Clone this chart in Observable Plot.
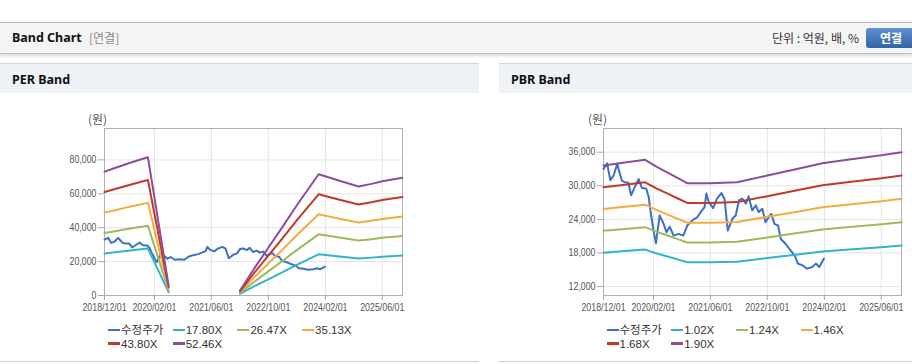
<!DOCTYPE html>
<html><head><meta charset="utf-8">
<script src="https://cdn.jsdelivr.net/npm/d3@7"></script>
<script src="https://cdn.jsdelivr.net/npm/@observablehq/plot@0.6"></script>
<style>
html,body{margin:0;padding:0}
body{width:912px;height:364px;position:relative;background:#fff;overflow:hidden;font-family:"Noto Sans","Noto Sans CJK KR",sans-serif}
.abs{position:absolute}
.topbar{left:0;top:22px;width:912px;height:30px;background:#f4f4f4;border-top:1px solid #b8b8b8;border-bottom:1px solid #c4c4c4;box-shadow:0 2px 3px rgba(0,0,0,0.15)}
.title{left:12px;top:0;line-height:30px;font-size:12.5px;font-weight:bold;color:#111}
.sub{left:89px;top:0;line-height:30px;font-size:12px;color:#888;font-family:"Noto Sans CJK KR",sans-serif}
.unit{right:53px;top:0;line-height:30px;font-size:12px;color:#333;font-family:"Noto Sans CJK KR",sans-serif}
.btn{left:866px;top:5px;width:52px;height:20px;border-radius:3px;background:linear-gradient(#5f8fd0,#3463a6);color:#fff;font-weight:bold;font-size:12px;line-height:20px;text-indent:14px;font-family:"Noto Sans CJK KR",sans-serif}
.phead{top:63px;height:29px;background:#eef1f6;border-top:1px solid #d6d6d6}
.ptitle{left:12px;top:2px;line-height:28px;font-size:12.5px;font-weight:bold;color:#111}
.pbottom{top:361px;height:1px;background:#cfcfcf}
.ylab{font-size:12px;color:#555;font-family:"Noto Sans CJK KR",sans-serif;line-height:14px}
.leg{font-size:11.5px;color:#333;font-family:"Liberation Sans","Noto Sans CJK KR",sans-serif;line-height:14px;white-space:nowrap}
.leg .sw{display:inline-block;width:12px;height:2.5px;vertical-align:middle;margin-right:1px;position:relative;top:-1px}
</style>
</head><body>
<div class="abs topbar">
  <div class="abs title">Band Chart</div>
  <div class="abs sub">[연결]</div>
  <div class="abs unit">단위 : 억원, 배, %</div>
  <div class="abs btn">연결</div>
</div>
<div class="abs phead" style="left:0;width:479px"><div class="abs ptitle">PER Band</div></div>
<div class="abs phead" style="left:499px;width:413px"><div class="abs ptitle">PBR Band</div></div>
<div class="abs pbottom" style="left:0;width:479px"></div>
<div class="abs pbottom" style="left:499px;width:413px"></div>
<div class="abs ylab" style="left:88px;top:112px">(원)</div>
<div class="abs ylab" style="left:588px;top:112px">(원)</div>
<div id="perChart" class="abs" style="left:0;top:100px"></div>
<div id="pbrChart" class="abs" style="left:499px;top:100px"></div>
<div id="perLegend"></div>
<div id="pbrLegend"></div>
<script>
// ---------- data ----------
const xTickLabels = ["2018-12-01","2020-02-01","2021-06-01","2022-10-01","2024-02-01","2025-06-01"];
const perYTicks = [0, 20000, 40000, 60000, 80000];
const pbrYTicks = [12000, 18000, 24000, 30000, 36000];

const priceDates = ["2018-12-01","2019-01-01","2019-01-28","2019-02-25","2019-03-28","2019-05-07","2019-06-04","2019-07-01","2019-07-25","2019-08-19","2019-09-28","2019-10-25","2019-12-01","2019-12-22","2020-01-10","2020-02-04","2020-02-22","2020-03-25","2020-04-28","2020-05-22","2020-06-19","2020-07-22","2020-09-04","2020-10-13","2020-11-16","2020-12-28","2021-02-10","2021-03-22","2021-04-13","2021-04-28","2021-05-19","2021-06-25","2021-07-28","2021-09-04","2021-10-01","2021-10-28","2021-12-07","2022-01-04","2022-02-01","2022-03-01","2022-04-01","2022-04-25","2022-05-25","2022-06-25","2022-07-19","2022-08-19","2022-09-16","2022-10-13","2022-11-04","2022-12-01","2023-01-01","2023-01-25","2023-03-07","2023-04-19","2023-05-25","2023-06-19","2023-07-28","2023-09-04","2023-10-22","2023-11-19","2023-12-19","2024-01-28"];
const priceValues = [33000,34000,31000,31800,33900,30900,30600,30600,28300,29500,31200,29600,29500,28000,25000,21700,19700,24700,23200,21700,22700,21100,21400,21100,22900,23800,24400,25600,26200,28600,27100,26000,27700,28700,27600,22000,24100,24700,27400,27700,26800,28100,25600,26500,25300,25900,23500,24400,25000,23200,22900,20500,19600,18400,17500,16100,15800,15200,15500,16100,15500,17000];

const perDates = ["2018-12-01","2019-03-01","2019-06-01","2019-09-01","2019-12-07","2020-06-01","2020-07-01","2022-02-01","2022-06-01","2022-10-01","2023-02-01","2023-06-01","2023-12-05","2024-06-01","2024-11-10","2025-03-01","2025-06-01","2025-11-20"];
const per1780 = [24795,25507,26255,26967,27679,1994,null,979,5340,9559,13777,18014,24261,22962,21805,22339,22873,23585];
const per2647 = [36873,37932,39043,40102,41161,2965,null,1456,7941,14214,20488,26788,36079,34146,32426,33220,34014,35073];
const per3513 = [48936,50341,51817,53222,54627,3935,null,1932,10539,18865,27191,35552,47882,45318,43034,44088,45142,46547];
const per4380 = [61013,62765,64605,66357,68109,4906,null,2409,13140,23521,33901,44326,59699,56502,53655,54969,56283,58035];
const per5246 = [73077,75175,77379,79477,81575,5876,null,2885,15738,28171,40604,53090,71503,67673,64264,65837,67411,69510];

const pbrDates = ["2018-12-01","2019-06-01","2019-11-22","2020-03-01","2020-06-01","2020-09-01","2020-11-15","2021-06-01","2022-01-15","2022-10-01","2023-06-01","2024-01-15","2024-09-01","2025-06-01","2025-11-22"];
const pbr102 = [18054,18329,18595,17911,17360,16810,16351,16351,16442,17085,17697,18268,18635,19023,19329];
const pbr124 = [21948,22283,22605,21774,21105,20435,19877,19877,19989,20770,21514,22208,22655,23126,23498];
const pbr146 = [25842,26236,26616,25638,24849,24061,23404,23404,23535,24455,25331,26149,26674,27229,27667];
const pbr168 = [29736,30190,30626,29501,28594,27686,26930,26930,27082,28140,29148,30089,30694,31332,31836];
const pbr190 = [33630,34143,34637,33364,32338,31312,30457,30457,30628,31825,32965,34029,34713,35435,36005];

const priceName = "수정주가";
const perNames = ["17.80X","26.47X","35.13X","43.80X","52.46X"];
const pbrNames = ["1.02X","1.24X","1.46X","1.68X","1.90X"];
const colors = ["#3c70c7","#33b3c8","#9bbb59","#f4ac3e","#c1392b","#8e4c9e"];

// ---------- helpers ----------
const parse = d3.utcParse("%Y-%m-%d");
const xTicks = xTickLabels.map(parse);
const xDomain = [parse("2018-12-01"), parse("2025-11-21")];
const toRows = (dates, vals) => dates.map((d, i) => ({date: parse(d), value: vals[i]}));
const priceRows = toRows(priceDates, priceValues);

function chart(width, marginRight, yDomain, yTicks, bandDates, bands) {
  return Plot.plot({
    width, height: 220,
    marginLeft: 104, marginRight, marginTop: 28, marginBottom: 25,
    style: {fontFamily: "'Liberation Sans', Arial, sans-serif", fontSize: "10px", color: "#555", background: "transparent", overflow: "visible"},
    x: {type: "utc", domain: xDomain, label: null},
    y: {domain: yDomain, label: null},
    marks: [
      Plot.gridX(xTicks, {stroke: "#e4e4e4", strokeOpacity: 1}),
      Plot.gridY(yTicks, {stroke: "#e4e4e4", strokeOpacity: 1}),
      Plot.axisX(xTicks, {tickFormat: d3.utcFormat("%Y/%m/%d"), tickSize: 5, tickPadding: 3, stroke: "#a8a8a8", fill: "#555", label: null}),
      Plot.axisY(yTicks, {tickFormat: d3.format(","), tickSize: 6, tickPadding: 2, stroke: "#a8a8a8", fill: "#555", label: null}),
      Plot.frame({stroke: "#b0b0b0"}),
      Plot.line(priceRows, {x: "date", y: "value", stroke: colors[0], strokeWidth: 2}),
      ...bands.map((b, k) => Plot.line(toRows(bandDates, b), {x: "date", y: "value", stroke: colors[k + 1], strokeWidth: 2}))
    ]
  });
}

function narrow(svg) {
  d3.select(svg).selectAll('g[aria-label="x-axis tick label"] text, g[aria-label="y-axis tick label"] text').each(function () {
    const w = this.getComputedTextLength();
    this.setAttribute("textLength", (w * 0.88).toFixed(1));
    this.setAttribute("lengthAdjust", "spacingAndGlyphs");
  });
}

const perSvg = chart(479, 77, [0, 98500], perYTicks, perDates, [per1780, per2647, per3513, per4380, per5246]);
document.getElementById("perChart").append(perSvg);
narrow(perSvg);
const pbrSvg = chart(413, 11, [10400, 40230], pbrYTicks, pbrDates, [pbr102, pbr124, pbr146, pbr168, pbr190]);
document.getElementById("pbrChart").append(pbrSvg);
narrow(pbrSvg);

function legend(id, left, names) {
  const el = document.getElementById(id);
  const all = [priceName, ...names];
  all.forEach((n, i) => {
    const row = i < 4 ? 0 : 1;
    const col = i < 4 ? i : i - 4;
    const item = document.createElement("div");
    item.className = "abs leg";
    item.style.left = (left + col * 64.7) + "px";
    item.style.top = (323 + row * 13.5) + "px";
    item.innerHTML = `<span class="sw" style="background:${colors[i]}"></span>${n}`;
    el.append(item);
  });
}
legend("perLegend", 108, perNames);
legend("pbrLegend", 606.5, pbrNames);
</script>
</body></html>
